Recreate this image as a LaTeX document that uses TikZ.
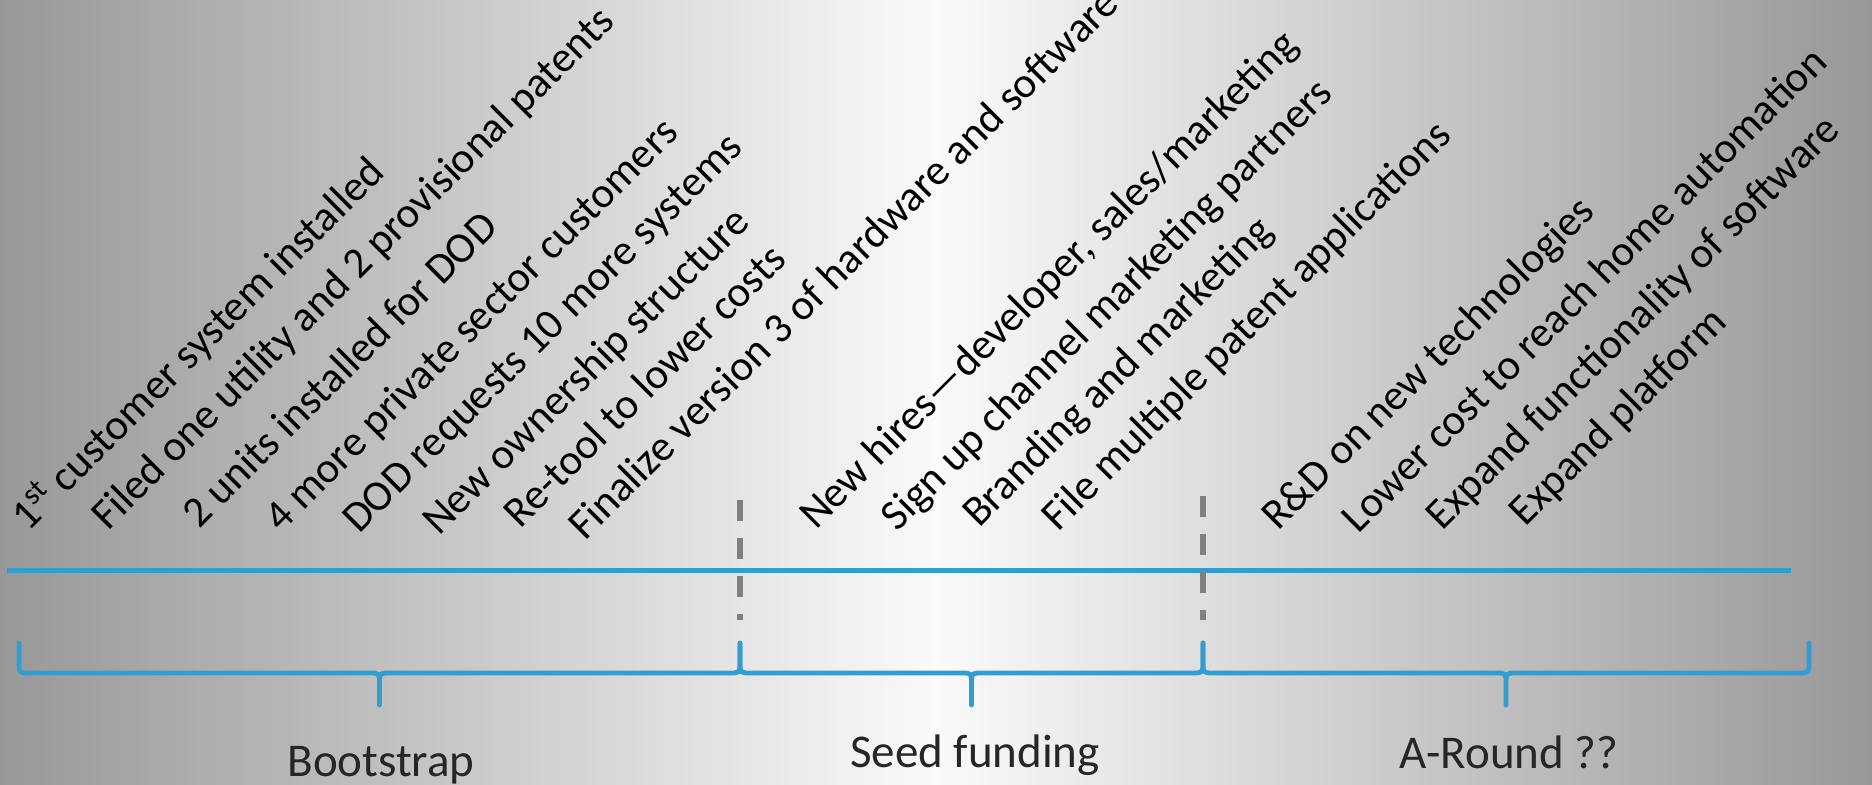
\documentclass[tikz,border=0pt]{standalone}
\usepackage{fontspec}
\setmainfont{Carlito}
\definecolor{lineblue}{RGB}{52,157,207}
\definecolor{divgray}{RGB}{128,128,128}
\definecolor{phasetext}{RGB}{38,38,38}
\definecolor{bgside}{RGB}{152,152,152}
\definecolor{bgmid}{RGB}{250,250,250}
\begin{document}
\begin{tikzpicture}[x=0.5pt,y=-0.5pt,
  lbl/.style={anchor=base west, rotate=45, inner sep=0pt, font=\fontsize{21.5pt}{26pt}\selectfont, text=black},
  phase/.style={anchor=base, inner sep=0pt, font=\fontsize{23.5pt}{28pt}\selectfont, text=phasetext},
  timeline/.style={draw=lineblue, line width=2.5pt},
  bracestyle/.style={draw=lineblue, line width=2.4pt, line cap=round, line join=round},
  divider/.style={draw=divgray, line width=2.7pt, dash pattern=on 10.5pt off 8.5pt}]
\useasboundingbox (0,0) rectangle (1872,785);
\fill[left color=bgside, right color=bgside, middle color=bgmid] (0,0) rectangle (1872,785);

% timeline
\coordinate (tl-start) at (7,570);
\coordinate (tl-end) at (1791,570);
\draw[timeline] (tl-start) -- (tl-end);

% dividers
\coordinate (d1-top) at (740,500);
\coordinate (d1-bot) at (740,620);
\coordinate (d2-top) at (1203,496);
\coordinate (d2-bot) at (1203,620);
\draw[divider] (d1-top) -- (d1-bot);
\draw[divider] (d2-top) -- (d2-bot);

% braces
\foreach \a/\b in {19/740, 740/1203, 1203/1809} {
  \pgfmathsetmacro\m{(\a+\b)/2}
  \draw[bracestyle] (\a,643) -- (\a,662) .. controls (\a,673) .. (\a+11,673) -- (\m-10,673) .. controls (\m,673) .. (\m,684) -- (\m,705)
    (\m,684) .. controls (\m,673) .. (\m+10,673) -- (\b-11,673) .. controls (\b,673) .. (\b,662) -- (\b,643);
}

% phase labels
\node[phase] (bootstrap) at (381,776) {Bootstrap};
\node[phase] (seed) at (975,767) {Seed funding};
\node[phase] (around) at (1509,768) {A-Round ??};

% milestones
\node[lbl] (m1) at (28,533) {1\textsuperscript{st} customer system installed};
\node[lbl] (m2) at (108,532) {Filed one utility and 2 provisional patents};
\node[lbl] (m3) at (199,530) {2 units installed for DOD};
\node[lbl] (m4) at (281,534) {4 more private sector customers};
\node[lbl] (m5) at (359,535) {DOD requests 10 more systems};
\node[lbl] (m6) at (439,537) {New ownership structure};
\node[lbl] (m7) at (520,530) {Re-tool to lower costs};
\node[lbl] (m8) at (585,542) {Finalize version 3 of hardware and software};
\node[lbl] (m9) at (816,531) {New hires—developer, sales/marketing};
\node[lbl] (m10) at (897,533) {Sign up channel marketing partners};
\node[lbl] (m11) at (979,529) {Branding and marketing};
\node[lbl] (m12) at (1058,533) {File multiple patent applications};
\node[lbl] (m13) at (1278,532) {R\&D on new technologies};
\node[lbl] (m14) at (1358,535) {Lower cost to reach home automation};
\node[lbl] (m15) at (1442,532) {Expand functionality of software};
\node[lbl] (m16) at (1525,528) {Expand platform};
\end{tikzpicture}
\end{document}
